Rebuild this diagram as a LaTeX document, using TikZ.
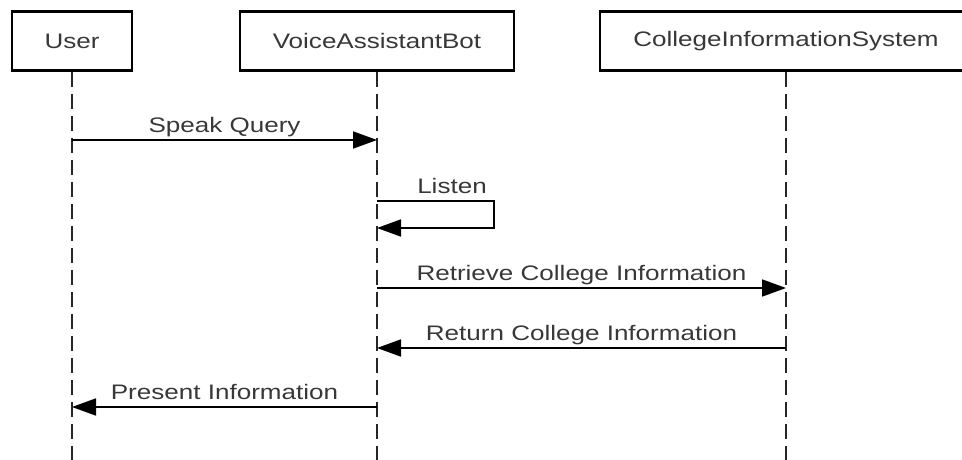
\documentclass[tikz,border=0pt]{standalone}
\usepackage{fontspec}
\setmainfont{Liberation Sans}
\usetikzlibrary{arrows.meta}
\definecolor{txtgray}{HTML}{383838}
\newcommand{\wide}[1]{\scalebox{1.24}[1]{#1}}
\tikzset{actorbox/.style={draw=black,line width=2.6pt,fill=white,
                          inner sep=0pt,minimum height=59pt,text=txtgray,
                          font=\fontsize{21}{25}\selectfont},
         lifeline/.style={draw=black!85,line width=2pt,
                          dash pattern=on 15pt off 7pt},
         msg/.style={draw=black,line width=1.8pt,
                     -{Triangle[length=24pt,width=17pt]}},
         msglabel/.style={text=txtgray,inner sep=0pt,anchor=base,
                          font=\fontsize{21}{25}\selectfont}}

\begin{document}
\begin{tikzpicture}[x=1pt,y=-1pt]
  \useasboundingbox (0,0) rectangle (962,460);
  \clip (0,0) rectangle (962,460);
  % actors
  \node (user) at (72,41) [actorbox,minimum width=120pt]{\wide{User}};
  \node (bot)  at (377,41) [actorbox,minimum width=274pt]{\wide{VoiceAssistantBot}};
  \node (cis)  at (786,41) [actorbox,minimum width=372pt]{\wide{CollegeInformationSystem}};
  % lifelines
  \coordinate (userend) at (72,470);
  \coordinate (botend)  at (377,470);
  \coordinate (cisend)  at (786,470);
  \draw[lifeline] (user.south) -- (userend);
  \draw[lifeline] (bot.south) -- (botend);
  \draw[lifeline] (cis.south) -- (cisend);
  % message points
  \coordinate (u1) at (72,140);  \coordinate (b1) at (377,140);
  \coordinate (b2) at (377,201); \coordinate (l2) at (494,201);
  \coordinate (l3) at (494,228); \coordinate (b3) at (377,228);
  \coordinate (b4) at (377,288); \coordinate (c4) at (786,288);
  \coordinate (c5) at (786,348); \coordinate (b5) at (377,348);
  \coordinate (b6) at (377,407); \coordinate (u6) at (72,407);
  % messages
  \draw[msg] (u1) -- node[msglabel,midway,yshift=7.5pt]{\wide{Speak Query}} (b1);
  \draw[msg] (b2) -- (l2) -- (l3) -- (b3);
  \node (listen) at (452,193.5) [msglabel]{\wide{Listen}};
  \draw[msg] (b4) -- node[msglabel,midway,yshift=8pt]{\wide{Retrieve College Information}} (c4);
  \draw[msg] (c5) -- node[msglabel,midway,yshift=8pt]{\wide{Return College Information}} (b5);
  \draw[msg] (b6) -- node[msglabel,midway,yshift=7.5pt]{\wide{Present Information}} (u6);
\end{tikzpicture}
\end{document}
